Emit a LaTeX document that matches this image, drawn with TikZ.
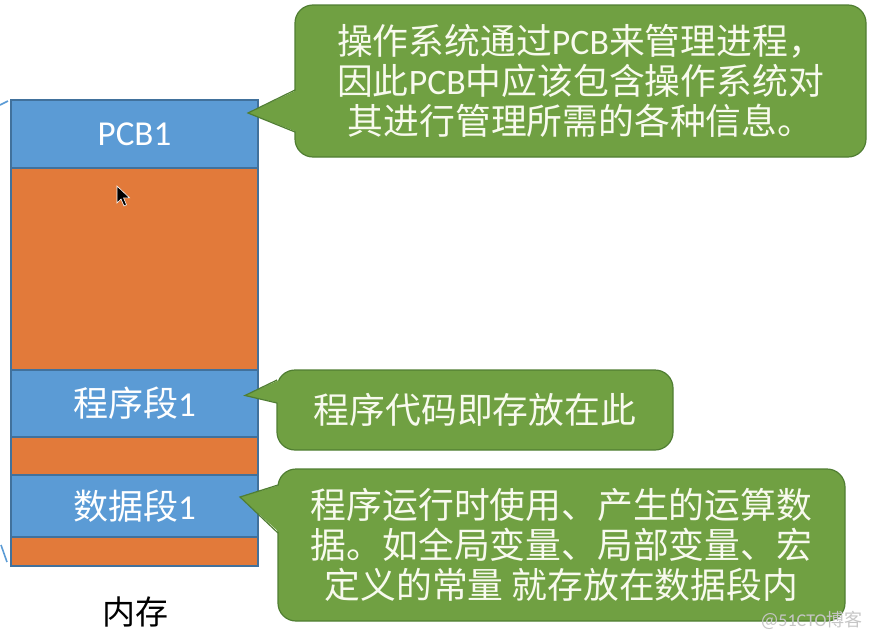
\documentclass[tikz,border=0pt]{standalone}
\usepackage{fontspec}
\setmainfont{Noto Sans CJK SC}
\newfontfamily\lat{Carlito}
\usetikzlibrary{positioning}

\definecolor{segblue}{RGB}{91,155,213}
\definecolor{segline}{RGB}{65,113,156}
\definecolor{segorange}{RGB}{226,122,58}
\definecolor{notegreen}{RGB}{112,160,66}
\definecolor{noteline}{RGB}{80,126,50}
\definecolor{notetext}{RGB}{248,250,238}

\tikzset{
  seg/.style={rectangle, minimum width=247pt, inner sep=0pt, outer sep=0pt,
    draw=segline, line width=1.2pt},
  blueseg/.style={seg, fill=segblue, text=white,
    font=\fontsize{35}{40}\selectfont},
  orangeseg/.style={seg, fill=segorange},
  note/.style={rectangle, rounded corners=18pt, fill=notegreen, draw=noteline,
    line width=1.2pt, text=notetext, align=center, inner sep=0pt, outer sep=0pt,
    font=\fontsize{35.8}{40}\selectfont},
  tipfill/.style={fill=notegreen},
  tipline/.style={draw=noteline, line width=1.2pt, line join=miter},
}

\begin{document}
\begin{tikzpicture}[x=1pt, y=-1pt]
  % page in pixel units, y grows downwards
  \useasboundingbox (0,0) rectangle (871,637);

  % memory column, top to bottom
  \node[blueseg, minimum height=68pt] (pcb) at (134.5,134) {\lat PCB1};
  \node[orangeseg, minimum height=202pt, below=0pt of pcb] (free) {};
  \node[blueseg, minimum height=67pt, below=0pt of free] (prog) {程序段{\lat 1}};
  \node[orangeseg, minimum height=38pt, below=0pt of prog] (gap) {};
  \node[blueseg, minimum height=62pt, below=0pt of gap] (data) {数据段{\lat 1}};
  \node[orangeseg, minimum height=29pt, below=0pt of data] (tail) {};
  \node[font=\fontsize{33}{33}\selectfont] (mem) at (135,612) {内存};

  % mouse pointer
  \filldraw[black, draw=white, line width=0.6pt] (117,186) -- ++(0,17)
    -- ++(4,-4) -- ++(3,7) -- ++(2.5,-1.2) -- ++(-3,-7) -- ++(6,0) -- cycle;

  % cut-off strokes at the left border
  \draw[segblue, line width=1.6pt] (0,105) -- (8,101);
  \draw[segblue, line width=1.6pt] (1,545) -- (7,562);

  % callouts
  \node[note, minimum width=571pt, minimum height=152pt] (pcbnote) at (580.5,81)
    {操作系统通过{\lat PCB}来管理进程，\\因此{\lat PCB}中应该包含操作系统对\\其进行管理所需的各种信息。};
  \node[note, minimum width=396pt, minimum height=80pt] (prognote) at (475,410)
    {程序代码即存放在此};
  \node[note, minimum width=567pt, minimum height=152pt] (datanote) at (561.5,545)
    {程序运行时使用、产生的运算数\\据。如全局变量、局部变量、宏\\定义的常量 就存放在数据段内};

  % callout tips
  \fill[tipfill] ([xshift=2pt,yshift=-9pt]pcbnote.west)
    -- ([xshift=-10pt,yshift=21pt]pcb.east) -- ([xshift=2pt,yshift=-51pt]pcbnote.west) -- cycle;
  \draw[tipline] ([yshift=-9pt]pcbnote.west)
    -- ([xshift=-10pt,yshift=21pt]pcb.east) -- ([yshift=-51pt]pcbnote.west);
  \fill[tipfill] ([xshift=2pt,yshift=30pt]prognote.west)
    -- ([xshift=-13pt,yshift=8pt]prog.east) -- ([xshift=2pt,yshift=7pt]prognote.west) -- cycle;
  \draw[tipline] ([yshift=30pt]prognote.west)
    -- ([xshift=-13pt,yshift=8pt]prog.east) -- ([yshift=7pt]prognote.west);
  \fill[tipfill] ([xshift=2pt,yshift=60pt]datanote.west)
    -- ([xshift=-18pt,yshift=9pt]data.east) -- ([xshift=2pt,yshift=12pt]datanote.west) -- cycle;
  \draw[tipline] ([yshift=60pt]datanote.west)
    -- ([xshift=-18pt,yshift=9pt]data.east) -- ([yshift=12pt]datanote.west);

  % watermark
  \node[text=gray!45, font=\fontsize{18}{18}\selectfont] (mark) at (812,620)
    {@{\lat 51CTO}博客};
\end{tikzpicture}
\end{document}
